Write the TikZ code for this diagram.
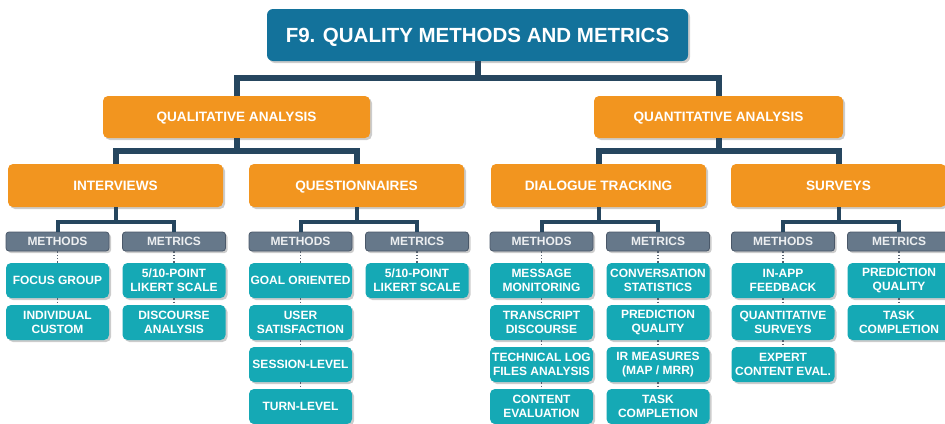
\documentclass[tikz,border=0pt]{standalone}
\usepackage{fontspec}
\setmainfont{Liberation Sans}
\usetikzlibrary{shadows}
\definecolor{titleblue}{HTML}{13729B}
\definecolor{orangeA}{HTML}{F2951F}
\definecolor{navy}{HTML}{26465F}
\definecolor{slate}{HTML}{66788A}
\definecolor{slateB}{HTML}{4A5869}
\definecolor{tealA}{HTML}{15A9B5}
\definecolor{dotgray}{HTML}{55606E}
\tikzset{
 shad/.style={drop shadow={shadow xshift=2pt, shadow yshift=-2pt, fill=black, opacity=0.2}},
 titlebox/.style={shad, fill=titleblue, rounded corners=6pt, minimum width=421pt, minimum height=52pt, inner sep=0pt, text height=14.7pt, text depth=0pt, text=white, font=\bfseries\fontsize{20.5}{24}\selectfont},
 lvone/.style={shad, fill=orangeA, rounded corners=5pt, minimum height=42pt, inner sep=0pt, text height=9.7pt, text depth=0pt, text=white, font=\bfseries\fontsize{13.6}{16}\selectfont},
 lvtwo/.style={lvone, minimum width=215pt, minimum height=43pt},
 hdr/.style={shad, fill=slate, draw=slateB, line width=0.8pt, rounded corners=3pt, minimum width=103pt, minimum height=19pt, inner sep=0pt, text height=8.6pt, text depth=0pt, text=white!88!slate, font=\bfseries\fontsize{12}{14}\selectfont},
 leaf/.style={shad, fill=tealA, rounded corners=5pt, minimum width=103pt, minimum height=35pt, inner sep=0pt, text=white, align=center, font=\bfseries\fontsize{12}{14}\selectfont},
 bigcon/.style={draw=navy, line width=6pt},
 midcon/.style={draw=navy, line width=4pt},
 dotcon/.style={draw=dotgray, line width=1.3pt, dotted},
}
\begin{document}
\begin{tikzpicture}[x=1pt,y=-1pt]
\useasboundingbox[fill=white] (0,0) rectangle (945,423);
% title and level 1
\node[titlebox] (title) at (477.5,35) {F9. QUALITY METHODS AND METRICS};
\node[lvone, minimum width=267pt] (qual) at (236.5,117) {QUALITATIVE ANALYSIS};
\node[lvone, minimum width=249pt] (quant) at (718.5,117) {QUANTITATIVE ANALYSIS};
% level 2
\node[lvtwo] (intv) at (115.5,185.5) {INTERVIEWS};
\node[lvtwo] (ques) at (356.5,185.5) {QUESTIONNAIRES};
\node[lvtwo] (dial) at (598.5,185.5) {DIALOGUE TRACKING};
\node[lvtwo] (surv) at (838.5,185.5) {SURVEYS};
% headers
\node[hdr] (intM) at (57.5,241.5) {METHODS};
\node[hdr] (intR) at (174,241.5) {METRICS};
\node[hdr] (quesM) at (300.5,241.5) {METHODS};
\node[hdr] (quesR) at (417,241.5) {METRICS};
\node[hdr] (dialM) at (541.5,241.5) {METHODS};
\node[hdr] (dialR) at (658,241.5) {METRICS};
\node[hdr] (survM) at (783,241.5) {METHODS};
\node[hdr] (survR) at (899,241.5) {METRICS};
% leaves: interviews
\node[leaf] (iM1) at (57.5,280.5) {FOCUS GROUP};
\node[leaf] (iM2) at (57.5,322.5) {INDIVIDUAL\\CUSTOM};
\node[leaf] (iR1) at (174,280.5) {5/10-POINT\\LIKERT SCALE};
\node[leaf] (iR2) at (174,322.5) {DISCOURSE\\ANALYSIS};
% questionnaires
\node[leaf] (qM1) at (300.5,280.5) {GOAL ORIENTED};
\node[leaf] (qM2) at (300.5,322.5) {USER\\SATISFACTION};
\node[leaf] (qM3) at (300.5,364.5) {SESSION-LEVEL};
\node[leaf] (qM4) at (300.5,406.5) {TURN-LEVEL};
\node[leaf] (qR1) at (417,280.5) {5/10-POINT\\LIKERT SCALE};
% dialogue tracking
\node[leaf] (dM1) at (541.5,280.5) {MESSAGE\\MONITORING};
\node[leaf] (dM2) at (541.5,322.5) {TRANSCRIPT\\DISCOURSE};
\node[leaf] (dM3) at (541.5,364.5) {TECHNICAL LOG\\FILES ANALYSIS};
\node[leaf] (dM4) at (541.5,406.5) {CONTENT\\EVALUATION};
\node[leaf] (dR1) at (658,280.5) {CONVERSATION\\STATISTICS};
\node[leaf] (dR2) at (658,322.5) {PREDICTION\\QUALITY};
\node[leaf] (dR3) at (658,364.5) {IR MEASURES\\(MAP / MRR)};
\node[leaf] (dR4) at (658,406.5) {TASK\\COMPLETION};
% surveys
\node[leaf] (sM1) at (783,280.5) {IN-APP\\FEEDBACK};
\node[leaf] (sM2) at (783,322.5) {QUANTITATIVE\\SURVEYS};
\node[leaf] (sM3) at (783,364.5) {EXPERT\\CONTENT EVAL.};
\node[leaf] (sR1) at (899,280.5) {PREDICTION\\QUALITY};
\node[leaf] (sR2) at (899,322.5) {TASK\\COMPLETION};
% connectors level 0/1
\coordinate (j0) at (477.5,78);
\draw[bigcon] (qual.north) |- (j0) -| (quant.north);
\draw[bigcon] (title.south) -- (j0);
\coordinate (j1) at (236.5,151);
\draw[bigcon] (intv.north) |- (j1) -| (ques.north);
\draw[bigcon] (qual.south) -- (j1);
\coordinate (j2) at (718.5,151);
\draw[bigcon] (dial.north) |- (j2) -| (surv.north);
\draw[bigcon] (quant.south) -- (j2);
% connectors level 2
\coordinate (k1) at (115.5,222);
\draw[midcon] (intM.north) |- (k1) -| (intR.north);
\draw[midcon] (intv.south) -- (k1);
\coordinate (k2) at (356.5,222);
\draw[midcon] (quesM.north) |- (k2) -| (quesR.north);
\draw[midcon] (ques.south) -- (k2);
\coordinate (k3) at (598.5,222);
\draw[midcon] (dialM.north) |- (k3) -| (dialR.north);
\draw[midcon] (dial.south) -- (k3);
\coordinate (k4) at (838.5,222);
\draw[midcon] (survM.north) |- (k4) -| (survR.north);
\draw[midcon] (surv.south) -- (k4);
% dotted connectors
\draw[dotcon] (intM.south) -- (iM1.north);
\draw[dotcon] (iM1.south) -- (iM2.north);
\draw[dotcon] (intR.south) -- (iR1.north);
\draw[dotcon] (iR1.south) -- (iR2.north);
\draw[dotcon] (quesM.south) -- (qM1.north);
\draw[dotcon] (qM1.south) -- (qM2.north);
\draw[dotcon] (qM2.south) -- (qM3.north);
\draw[dotcon] (qM3.south) -- (qM4.north);
\draw[dotcon] (quesR.south) -- (qR1.north);
\draw[dotcon] (dialM.south) -- (dM1.north);
\draw[dotcon] (dM1.south) -- (dM2.north);
\draw[dotcon] (dM2.south) -- (dM3.north);
\draw[dotcon] (dM3.south) -- (dM4.north);
\draw[dotcon] (dialR.south) -- (dR1.north);
\draw[dotcon] (dR1.south) -- (dR2.north);
\draw[dotcon] (dR2.south) -- (dR3.north);
\draw[dotcon] (dR3.south) -- (dR4.north);
\draw[dotcon] (survM.south) -- (sM1.north);
\draw[dotcon] (sM1.south) -- (sM2.north);
\draw[dotcon] (sM2.south) -- (sM3.north);
\draw[dotcon] (survR.south) -- (sR1.north);
\draw[dotcon] (sR1.south) -- (sR2.north);
\end{tikzpicture}
\end{document}
